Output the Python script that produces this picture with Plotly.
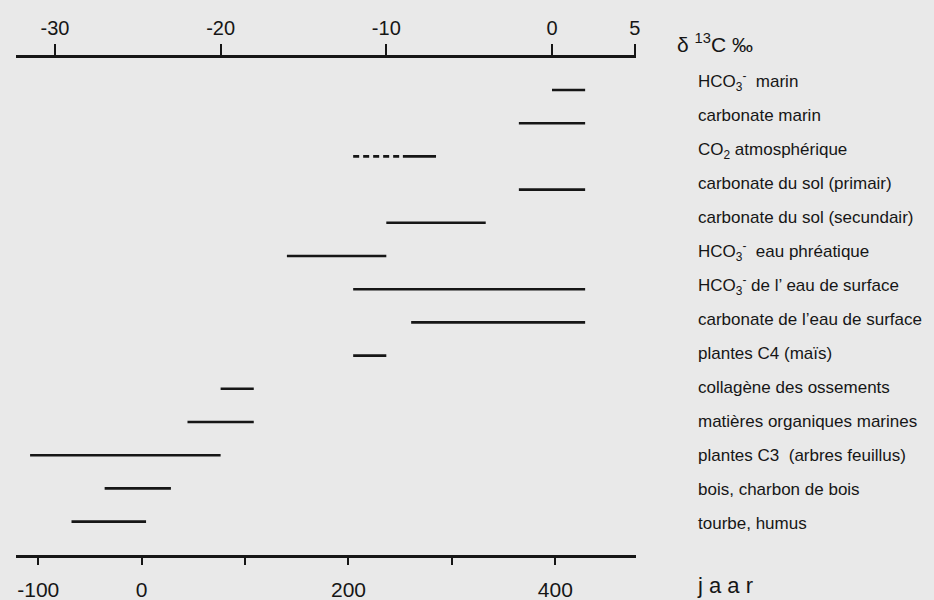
import plotly.graph_objects as go

# ---- data ----
categories = [
    "HCO<sub>3</sub><sup>-</sup>\u00a0 marin",
    "carbonate marin",
    "CO<sub>2</sub> atmosphérique",
    "carbonate du sol (primair)",
    "carbonate du sol (secundair)",
    "HCO<sub>3</sub><sup>-</sup>\u00a0 eau phréatique",
    "HCO<sub>3</sub><sup>-</sup> de l\u2019 eau de surface",
    "carbonate de l\u2019eau de surface",
    "plantes C4 (maïs)",
    "collagène des ossements",
    "matières organiques marines",
    "plantes C3\u00a0 (arbres feuillus)",
    "bois, charbon de bois",
    "tourbe, humus",
]
delta_low = [0, -2, -9, -2, -10, -16, -12, -8.5, -12, -20, -22, -31.5, -27, -29]
delta_high = [2, 2, -7, 2, -4, -10, 2, 2, -10, -18, -18, -20, -23, -24.5]
co2_dashed_low = -12
co2_dashed_high = -9
co2_row = 2

delta_ticks = [-30, -20, -10, 0, 5]
delta_ticktext = ["-30", "-20", "-10", "0", "5"]
year_ticks = [-100, 0, 100, 200, 300, 400]
year_ticktext = ["-100", "0", "", "200", "", "400"]
delta_title = "\u03b4 <sup>13</sup>C \u2030"
year_title = "j a a r"

# ---- layout constants (screen pixels) ----
W, H = 934, 600
L, R = 16, 636          # chart area x
T, B = 58, 555          # chart area y
ROW0, ROWSTEP = 90, 33.2
LAB0, LABSTEP = 83, 34.0
XR = [-32.35, 5.07]
YEAR_R = [-121.5, 478]
FONT = "Liberation Sans, Arial, Helvetica, sans-serif"
INK = "#161616"
BG = "#e9e9e9"


def sy(py):   # screen y pixel -> row units
    return (py - ROW0) / ROWSTEP


xs, ys = [], []
for i, (lo, hi) in enumerate(zip(delta_low, delta_high)):
    xs += [lo, hi, None]
    ys += [i, i, None]

fig = go.Figure()
fig.add_trace(go.Scatter(x=xs, y=ys, mode="lines",
                         line=dict(color=INK, width=2.6),
                         hoverinfo="skip", showlegend=False))
fig.add_trace(go.Scatter(x=[co2_dashed_low, co2_dashed_high], y=[co2_row, co2_row],
                         mode="lines", line=dict(color=INK, width=2.6, dash="6px,4px"),
                         hoverinfo="skip", showlegend=False))
# invisible trace carrying the bottom (years) axis
fig.add_trace(go.Scatter(x=[year_ticks[0], year_ticks[-1]], y=[0, 0], xaxis="x2",
                         mode="lines", line=dict(width=0), opacity=0,
                         hoverinfo="skip", showlegend=False))

# text layer: a full-page invisible subplot (x3/y3) measured in pixels
fig.add_trace(go.Scatter(
    x=[698] * len(categories), y=[LAB0 + LABSTEP * i for i in range(len(categories))],
    mode="text", text=categories, textposition="middle right", cliponaxis=False,
    textfont=dict(family=FONT, size=17, color=INK),
    xaxis="x3", yaxis="y3", hoverinfo="skip", showlegend=False))
fig.add_trace(go.Scatter(
    x=[677], y=[47], mode="text", text=[delta_title],
    textposition="middle right", cliponaxis=False,
    textfont=dict(family=FONT, size=21, color=INK),
    xaxis="x3", yaxis="y3", hoverinfo="skip", showlegend=False))
fig.add_trace(go.Scatter(
    x=[698], y=[587], mode="text", text=[year_title],
    textposition="middle right", cliponaxis=False,
    textfont=dict(family=FONT, size=22, color=INK),
    xaxis="x3", yaxis="y3", hoverinfo="skip", showlegend=False))

fig.update_layout(
    template="none",
    width=W, height=H,
    margin=dict(l=0, r=0, t=0, b=0, pad=0, autoexpand=False),
    paper_bgcolor=BG, plot_bgcolor="rgba(0,0,0,0)",
    font=dict(family=FONT, color=INK),
    showlegend=False,
    hovermode=False,
    xaxis=dict(
        domain=[L / W, R / W], anchor="y",
        side="top", range=XR, showgrid=False, zeroline=False,
        showline=True, linecolor=INK, linewidth=3, automargin=False,
        ticks="outside", ticklen=11, tickwidth=2, tickcolor=INK,
        tickvals=delta_ticks, ticktext=delta_ticktext,
        tickfont=dict(family=FONT, size=20, color=INK),
        ticklabelstandoff=1, fixedrange=True,
    ),
    xaxis2=dict(
        overlaying="x", side="bottom", anchor="y", range=YEAR_R,
        showgrid=False, zeroline=False, automargin=False,
        showline=True, linecolor=INK, linewidth=3,
        ticks="outside", ticklen=7, tickwidth=2, tickcolor=INK,
        tickvals=year_ticks, ticktext=year_ticktext,
        tickfont=dict(family=FONT, size=21, color=INK),
        ticklabelstandoff=7, fixedrange=True,
    ),
    yaxis=dict(domain=[1 - B / H, 1 - T / H], anchor="x",
               range=[sy(B), sy(T)], visible=False, fixedrange=True, automargin=False),
    xaxis3=dict(domain=[0, 1], anchor="y3", range=[0, W], visible=False, fixedrange=True),
    yaxis3=dict(domain=[0, 1], anchor="x3", range=[H, 0], visible=False, fixedrange=True),
)

fig.write_html(
    "out.html",
    config={"displayModeBar": False, "staticPlot": True},
    post_script="document.body.style.margin='0';document.body.style.background='%s';" % BG,
)
